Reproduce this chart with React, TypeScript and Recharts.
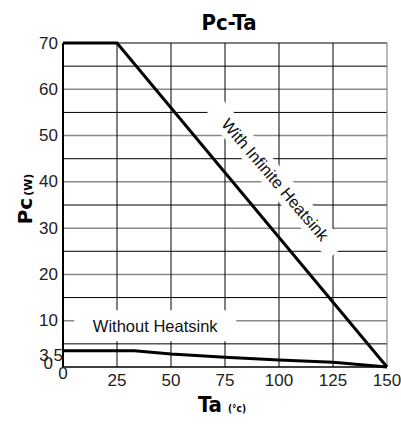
import React from "react";
import { LineChart, Line, XAxis, YAxis, ReferenceLine, ReferenceDot } from "recharts";

// Pc-Ta derating curves
const infiniteTa = [0, 25, 150];
const infinitePc = [70, 70, 0];
const withoutTa = [0, 33, 50, 75, 100, 125, 150];
const withoutPc = [3.5, 3.5, 2.8, 2.1, 1.5, 1.0, 0];

const xTicks = [0, 25, 50, 75, 100, 125, 150];
const yTicks = [0, 3.5, 10, 20, 30, 40, 50, 60, 70];
const hGrid = [5, 10, 15, 20, 25, 30, 35, 40, 45, 50, 55, 60, 65, 70];
const vGrid = [25, 50, 75, 100, 125, 150];

const infiniteData = infiniteTa.map((ta, i) => ({ ta, pc: infinitePc[i] }));
const withoutData = withoutTa.map((ta, i) => ({ ta, pc: withoutPc[i] }));

const FONT = "'Liberation Sans', Arial, sans-serif";

const YTick = (props: any) => {
  const { x, y, payload } = props;
  const v = payload.value;
  // the 3.5 and 0 labels are nudged in the original so they don't collide
  const dy = v === 3.5 ? 5 : v === 0 ? -4 : 0;
  const dx = v === 3.5 ? 8 : v === 0 ? -2 : 3;
  return (
    <text x={x + dx} y={y + dy} textAnchor="end" dominantBaseline="central"
      fontFamily={FONT} fontSize={17} fill="#222">
      {v}
    </text>
  );
};

const XTick = (props: any) => {
  const { x, y, payload } = props;
  const dy = payload.value === 0 ? -2 : 5;
  return (
    <text x={x} y={y + dy} textAnchor="middle" dominantBaseline="central"
      fontFamily={FONT} fontSize={17} fill="#222">
      {payload.value}
    </text>
  );
};

const boxLabel = (text: string, w: number, h: number, angle: number) => (p: any) => (
  <g transform={`translate(${p.cx},${p.cy}) rotate(${angle})`}>
    <rect x={-w / 2} y={-h / 2} width={w} height={h} fill="#fff" />
    <text x={0} y={0} textAnchor="middle" dominantBaseline="central"
      fontFamily={FONT} fontSize={16.5} fill="#111">
      {text}
    </text>
  </g>
);

export default function App() {
  return (
    <div style={{ position: "absolute", left: 0, top: 0, width: 401, height: 426, background: "#fff" }}>
      <LineChart width={401} height={426} data={infiniteData}
        margin={{ top: 43, right: 14, bottom: 0, left: 0 }}>
        <XAxis dataKey="ta" type="number" domain={[0, 150]} ticks={xTicks}
          height={59} tickLine={false} axisLine={{ stroke: "#000", strokeWidth: 1.5 }}
          tick={<XTick />} interval={0} />
        <YAxis type="number" domain={[0, 70]} ticks={yTicks} width={63}
          tickLine={false} axisLine={{ stroke: "#000", strokeWidth: 2 }}
          tick={<YTick />} interval={0} />
        {hGrid.map((v) => (
          <ReferenceLine key={`h${v}`} y={v}
            stroke={v % 10 === 0 && v !== 70 ? "#8a8a8a" : "#000"}
            strokeWidth={v % 10 === 0 && v !== 70 ? 1.5 : 1} />
        ))}
        {vGrid.map((v) => (
          <ReferenceLine key={`v${v}`} x={v} stroke={v === 150 ? "#777" : "#000"} strokeWidth={1} />
        ))}
        <ReferenceDot x={42.7} y={8.9} r={1} shape={boxLabel("Without Heatsink", 162, 31, 0)} />
        <ReferenceDot x={98.3} y={40.5} r={1} shape={boxLabel("With Infinite Heatsink", 190, 24, 49.5)} />
        <Line data={infiniteData} dataKey="pc" type="linear" stroke="#000" strokeWidth={3}
          dot={false} isAnimationActive={false} />
        <Line data={withoutData} dataKey="pc" type="linear" stroke="#000" strokeWidth={3}
          dot={false} isAnimationActive={false} />
        <text x={229} y={22} textAnchor="middle" dominantBaseline="central"
          fontFamily="'DejaVu Sans Condensed', 'DejaVu Sans', sans-serif" fontWeight="bold" fontSize={22} fill="#000">
          Pc-Ta
        </text>
        <text transform="translate(32,199) rotate(-90)" textAnchor="middle"
          fontFamily="'DejaVu Sans', sans-serif" fontWeight="bold" fill="#000">
          <tspan fontSize={20}>Pc</tspan>
          <tspan fontSize={11} dx={2}>(W)</tspan>
        </text>
        <text x={222} y={412} textAnchor="middle"
          fontFamily="'DejaVu Sans Condensed', 'DejaVu Sans', sans-serif" fontWeight="bold" fill="#000">
          <tspan fontSize={22}>Ta</tspan>
          <tspan fontSize={10} dx={6}>(°c)</tspan>
        </text>
      </LineChart>
    </div>
  );
}
